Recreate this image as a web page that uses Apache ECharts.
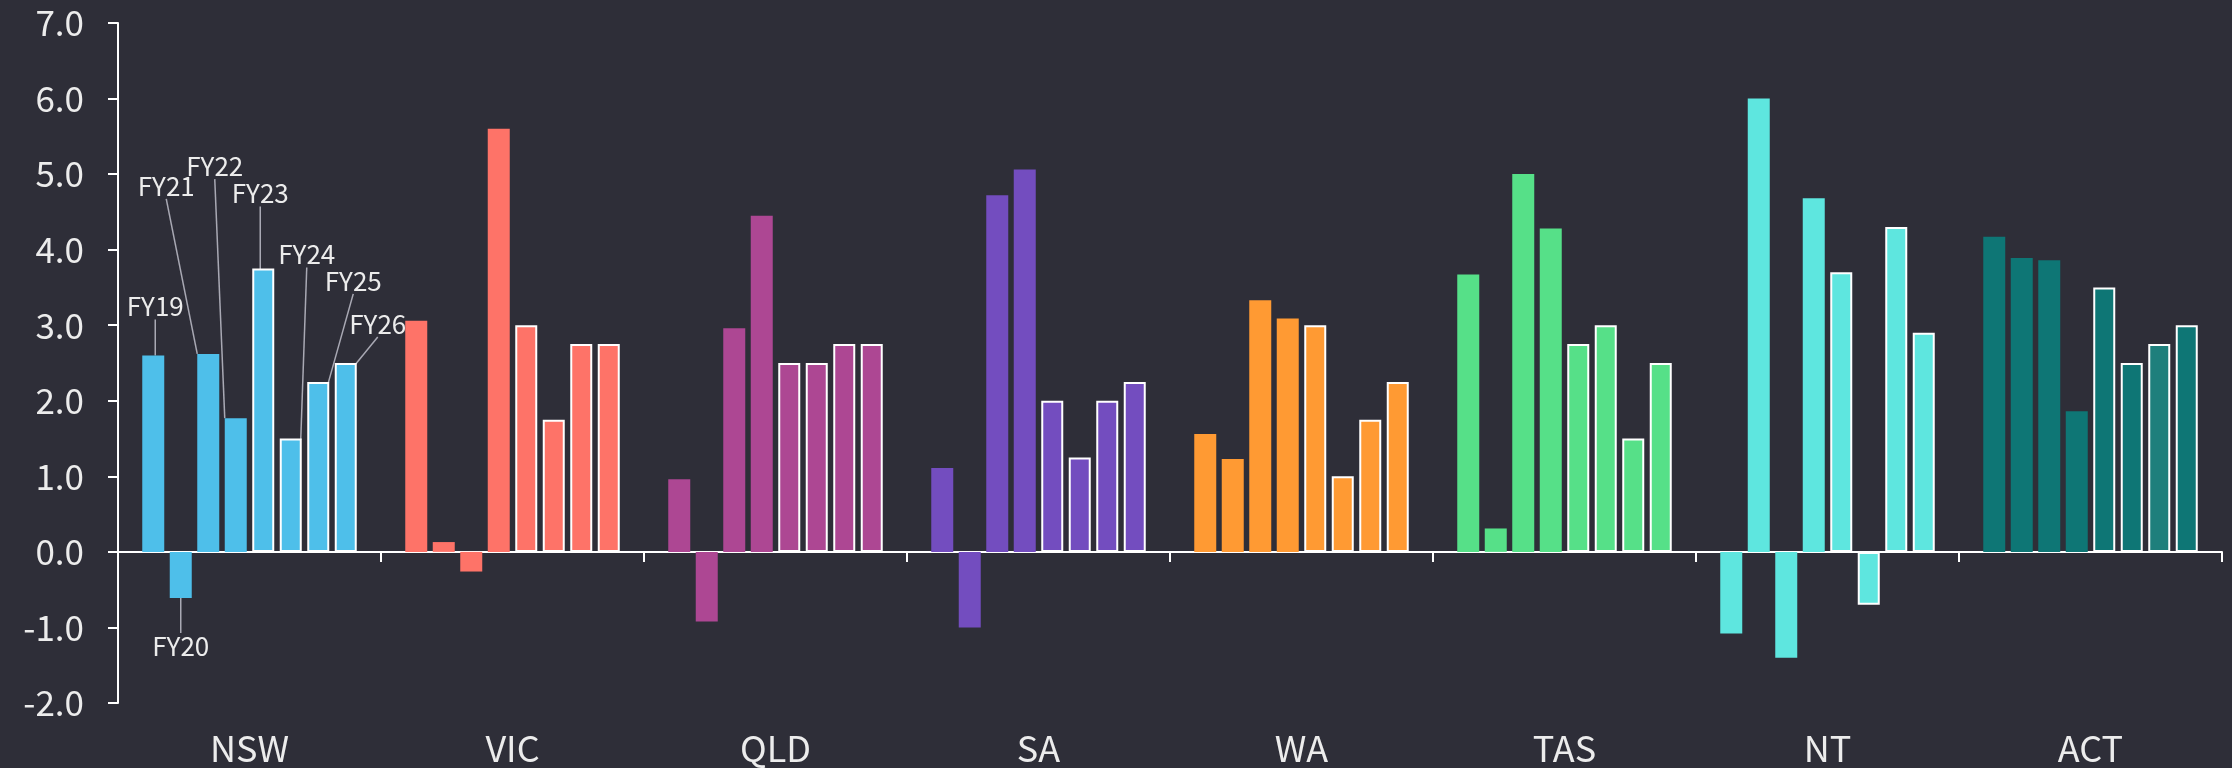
<!DOCTYPE html>
<html>
<head>
<meta charset="utf-8">
<script src="https://cdn.jsdelivr.net/npm/echarts@6/dist/echarts.min.js"></script>
<style>
  html, body { margin: 0; padding: 0; background: #2e2e38; }
  #container { width: 2232px; height: 768px; }
</style>
</head>
<body>
<div id="container"></div>
<script>
const states = ['NSW', 'VIC', 'QLD', 'SA', 'WA', 'TAS', 'NT', 'ACT'];
const years = ['FY19', 'FY20', 'FY21', 'FY22', 'FY23', 'FY24', 'FY25', 'FY26'];
const yTicks = [-2, -1, 0, 1, 2, 3, 4, 5, 6, 7];

// one array per fiscal year, one value per state
const fy19 = [2.6, 3.06, 0.96, 1.11, 1.56, 3.67, -1.08, 4.17];
const fy20 = [-0.61, 0.13, -0.92, -1.0, 1.23, 0.31, 6.0, 3.89];
const fy21 = [2.62, -0.26, 2.96, 4.72, 3.33, 5.0, -1.4, 3.86];
const fy22 = [1.77, 5.6, 4.45, 5.06, 3.09, 4.28, 4.68, 1.86];
const fy23 = [3.75, 3.0, 2.5, 2.0, 3.0, 2.75, 3.7, 3.5];
const fy24 = [1.5, 1.75, 2.5, 1.25, 1.0, 3.0, -0.7, 2.5];
const fy25 = [2.25, 2.75, 2.75, 2.0, 1.75, 1.5, 4.3, 2.75];
const fy26 = [2.5, 2.75, 2.75, 2.25, 2.25, 2.5, 2.9, 3.0];
const values = [fy19, fy20, fy21, fy22, fy23, fy24, fy25, fy26];

const firstForecast = 4; // FY23 onwards drawn with outline

const stateColors = ['#4ebfea', '#fe7368', '#ad4793', '#734dbf', '#ff9a33', '#56e088', '#5ee6df', '#0e7675'];
const hoverColor = '#1e7f7c'; // ACT FY25 shows slightly lighter in the source
const bg = '#2e2e38';
const textColor = '#ececec';
const font = '"Noto Sans CJK JP", "Noto Sans", sans-serif';

// where each NSW annotation sits, relative to the end of its bar
const labelOffsets = [[2, -49], [0, 48], [-42, -168], [-21, -252], [-3, -75], [16, -184], [35, -101], [32, -39]];

const dom = document.getElementById('container');
const myChart = echarts.init(dom, null, { renderer: 'canvas' });

const series = years.map((fy, s) => ({
	name: fy,
	type: 'bar',
	xAxisIndex: 0,
	barWidth: 22,
	barGap: '25%',
	colorBy: 'data',
	animation: false,
	emphasis: { disabled: true },
	itemStyle: s >= firstForecast ? { borderColor: '#ffffff', borderWidth: 2 } : {},
	label: {
		show: false,
		formatter: '{a}',
		color: textColor,
		fontSize: 26,
		fontFamily: font,
	},
	labelLayout: function (params) {
		if (params.dataIndex !== 0) return {};
		const v = values[s][0];
		const r = params.rect;
		const off = labelOffsets[s];
		const endY = v >= 0 ? r.y : r.y + r.height;
		return {
			x: r.x + r.width / 2 + off[0],
			y: endY + off[1],
			align: 'center',
			verticalAlign: 'middle',
		};
	},
	data: values[s].map((v, i) => {
		const item = { value: v };
		if (i === 0) {
			item.label = { show: true };
			item.labelLine = { show: true, lineStyle: { color: '#a9a9b4', width: 1.5 } };
		}
		if (s === 6 && i === 7) {
			item.itemStyle = { color: hoverColor };
		}
		return item;
	}),
}));

const option = {
	backgroundColor: bg,
	color: stateColors,
	grid: { left: 118, right: 10, top: 23, bottom: 65, containLabel: false, outerBoundsMode: 'none' },
	xAxis: [
		{
			type: 'category',
			data: states,
			position: 'bottom',
			axisLine: { show: false, onZero: false },
			axisTick: { show: false },
			axisLabel: { color: textColor, fontSize: 36, fontFamily: font, margin: 27 },
		},
		{
			type: 'category',
			data: states,
			position: 'top',
			axisLine: { show: true, onZero: true, lineStyle: { color: '#ffffff', width: 2 } },
			axisTick: { show: true, inside: true, length: 10, lineStyle: { color: '#ffffff', width: 2 } },
			axisLabel: { show: false },
		},
	],
	yAxis: {
		type: 'value',
		min: yTicks[0],
		max: yTicks[yTicks.length - 1],
		interval: 1,
		axisLine: { show: true, lineStyle: { color: '#ffffff', width: 2 } },
		axisTick: { show: true, length: 10, lineStyle: { color: '#ffffff', width: 2 } },
		splitLine: { show: false },
		axisLabel: {
			color: textColor,
			fontSize: 35,
			fontFamily: font,
			margin: 34,
			formatter: (v) => v.toFixed(1),
		},
	},
	series: series,
};

if (option && typeof option === 'object') {
	myChart.setOption(option);
}
</script>
</body>
</html>
